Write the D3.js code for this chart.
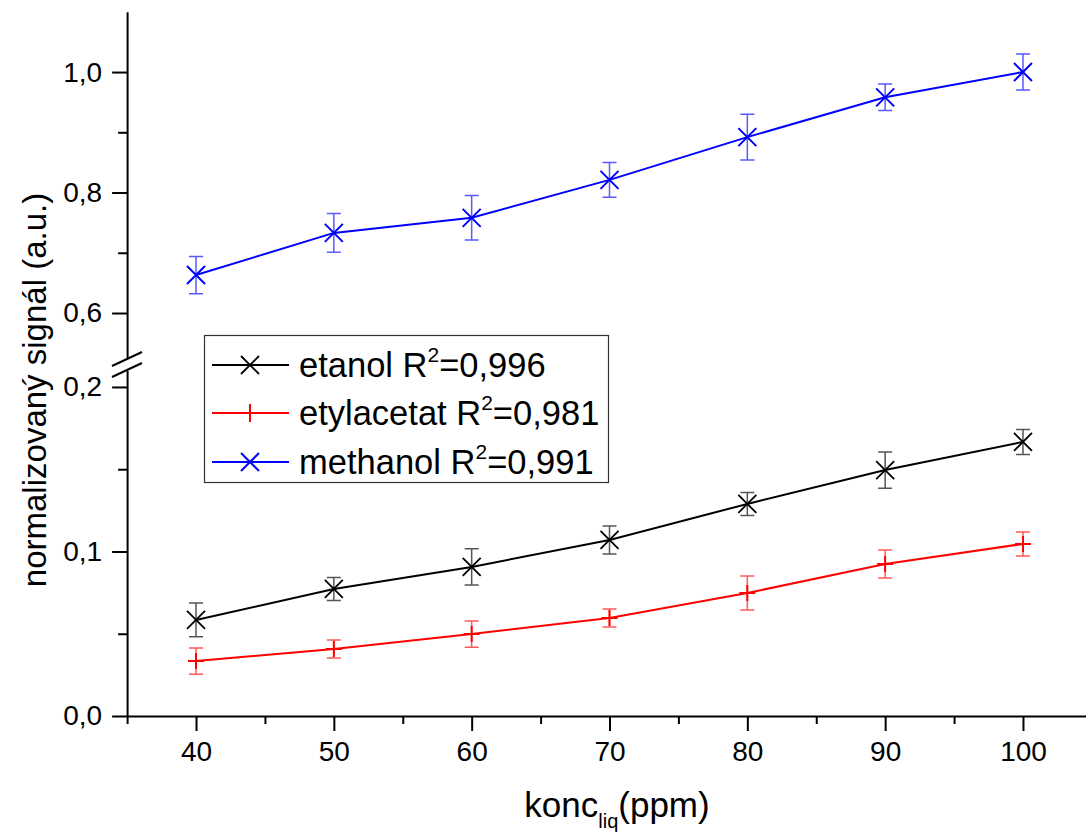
<!DOCTYPE html>
<html>
<head>
<meta charset="utf-8">
<script src="https://cdn.jsdelivr.net/npm/d3@7"></script>
<style>
  html, body { margin: 0; padding: 0; background: #fff; }
  svg { display: block; font-family: "Liberation Sans", Arial, sans-serif; }
</style>
</head>
<body>
<svg id="chart" width="1086" height="834"></svg>
<script>
// Concentrations (ppm) on the x axis
const concentrations = [40, 50, 60, 70, 80, 90, 100];

// Normalised signal for each compound with its standard deviation
const etanol        = [0.0584, 0.0772, 0.0906, 0.1070, 0.1289, 0.1495, 0.1666];
const etanolErr     = [0.0103, 0.0070, 0.0110, 0.0085, 0.0070, 0.0110, 0.0076];
const etylacetat    = [0.0334, 0.0407, 0.0498, 0.0596, 0.0748, 0.0924, 0.1046];
const etylacetatErr = [0.0080, 0.0055, 0.0080, 0.0055, 0.0103, 0.0085, 0.0073];
const methanol      = [0.663, 0.733, 0.758, 0.821, 0.892, 0.958, 1.000];
const methanolErr   = [0.031, 0.032, 0.037, 0.029, 0.038, 0.022, 0.030];

// Legend entries
const seriesNames = ["etanol", "etylacetat", "methanol"];
const seriesR2    = ["0,996", "0,981", "0,991"];

// Tick values for the axes
const xMajorTicks   = [40, 50, 60, 70, 80, 90, 100];
const xMinorTicks   = [35, 45, 55, 65, 75, 85, 95, 105];
const yLowMajor     = [0.0, 0.1, 0.2];
const yLowMinor     = [0.05, 0.15];
const yHighMajor    = [0.6, 0.8, 1.0];
const yHighMinor    = [0.7, 0.9];

const svg = d3.select("#chart");
const fmt = v => d3.format(".1f")(v).replace(".", ",");

// Scales: one x scale, two y segments joined by an axis break
const x = d3.scaleLinear().domain([35, 105]).range([127.1, 1091.9]);
const yLow  = d3.scaleLinear().domain([0, 0.21]).range([716, 370.5]);
const yHigh = d3.scaleLinear().domain([0.525, 1.1]).range([358.2, 11.8]);

const axisColor = "#000";
const tickFont = 28;

function styleAxis(g, fontSize) {
  g.selectAll("path.domain").attr("stroke", axisColor).attr("stroke-width", 2);
  g.selectAll(".tick line").attr("stroke", axisColor).attr("stroke-width", 2);
  g.selectAll(".tick text").attr("fill", "#000").style("font-size", fontSize + "px")
    .style("font-family", "'Liberation Sans', Arial, sans-serif");
}

// X axis
const xAxisG = svg.append("g").attr("transform", "translate(0,716)")
  .call(d3.axisBottom(x).tickValues(xMajorTicks).tickSize(15).tickSizeOuter(0).tickPadding(10).tickFormat(d3.format("d")));
styleAxis(xAxisG, tickFont);
const xMinorG = svg.append("g").attr("transform", "translate(0,716)")
  .call(d3.axisBottom(x).tickValues(xMinorTicks).tickSize(8).tickSizeOuter(0).tickFormat(""));
styleAxis(xMinorG, tickFont);
xMinorG.select("path.domain").remove();

// Y axis, lower segment
const yLowG = svg.append("g").attr("transform", "translate(127.1,0)")
  .call(d3.axisLeft(yLow).tickValues(yLowMajor).tickSize(15).tickSizeOuter(0).tickPadding(10).tickFormat(fmt));
styleAxis(yLowG, tickFont);
const yLowMinorG = svg.append("g").attr("transform", "translate(127.1,0)")
  .call(d3.axisLeft(yLow).tickValues(yLowMinor).tickSize(9).tickSizeOuter(0).tickFormat(""));
styleAxis(yLowMinorG, tickFont);
yLowMinorG.select("path.domain").remove();

// Y axis, upper segment
const yHighG = svg.append("g").attr("transform", "translate(127.1,0)")
  .call(d3.axisLeft(yHigh).tickValues(yHighMajor).tickSize(15).tickSizeOuter(0).tickPadding(10).tickFormat(fmt));
styleAxis(yHighG, tickFont);
const yHighMinorG = svg.append("g").attr("transform", "translate(127.1,0)")
  .call(d3.axisLeft(yHigh).tickValues(yHighMinor).tickSize(9).tickSizeOuter(0).tickFormat(""));
styleAxis(yHighMinorG, tickFont);
yHighMinorG.select("path.domain").remove();

// Axis break marks
const brk = svg.append("g");
brk.append("path")
  .attr("d", "M112,366 L142,352 L142,363 L112,377 Z")
  .attr("fill", "#fff");
[[366, 352], [377, 363]].forEach(([a, b]) => {
  brk.append("line").attr("x1", 112).attr("y1", a).attr("x2", 142).attr("y2", b)
    .attr("stroke", "#000").attr("stroke-width", 2);
});

// Axis titles
const xt = svg.append("text").attr("x", 617).attr("y", 817).attr("text-anchor", "middle")
  .style("font-size", "35px").attr("fill", "#000");
xt.append("tspan").text("konc");
xt.append("tspan").attr("dy", 11).style("font-size", "20px").text("liq");
xt.append("tspan").attr("dy", -11).text("(ppm)");

svg.append("text")
  .attr("transform", "translate(46,390) rotate(-90)")
  .attr("text-anchor", "middle")
  .style("font-size", "33px").attr("fill", "#000")
  .text("normalizovaný signál (a.u.)");

// Marker drawing helpers
function drawCross(g, cx, cy, r, color, w) {
  g.append("path")
    .attr("d", `M${cx - r},${cy - r}L${cx + r},${cy + r}M${cx - r},${cy + r}L${cx + r},${cy - r}`)
    .attr("stroke", color).attr("stroke-width", w).attr("fill", "none");
}
function drawPlus(g, cx, cy, r, color, w) {
  g.append("path")
    .attr("d", `M${cx - r},${cy}L${cx + r},${cy}M${cx},${cy - r}L${cx},${cy + r}`)
    .attr("stroke", color).attr("stroke-width", w).attr("fill", "none");
}

const series = [
  { values: etanol, errs: etanolErr, y: yLow, color: "#000000", errColor: "#555555", marker: "cross", r: 9, mw: 1.8 },
  { values: etylacetat, errs: etylacetatErr, y: yLow, color: "#ff0000", errColor: "#ff5a5a", marker: "plus", r: 8, mw: 2 },
  { values: methanol, errs: methanolErr, y: yHigh, color: "#0000ff", errColor: "#5a5aff", marker: "cross", r: 9, mw: 2 }
];

const plot = svg.append("g");
series.forEach(s => {
  const pts = concentrations.map((c, i) => ({ c, v: s.values[i], e: s.errs[i] }));
  const g = plot.append("g");

  // Error bars
  pts.forEach(p => {
    const px = x(p.c), top = s.y(p.v + p.e), bot = s.y(p.v - p.e);
    g.append("path")
      .attr("d", `M${px},${top}L${px},${bot}M${px - 7},${top}L${px + 7},${top}M${px - 7},${bot}L${px + 7},${bot}`)
      .attr("stroke", s.errColor).attr("stroke-width", 1.5).attr("fill", "none");
  });

  // Connecting line
  g.append("path").datum(pts)
    .attr("d", d3.line().x(p => x(p.c)).y(p => s.y(p.v)))
    .attr("stroke", s.color).attr("stroke-width", 2).attr("fill", "none");

  // Markers
  pts.forEach(p => {
    if (s.marker === "cross") drawCross(g, x(p.c), s.y(p.v), s.r, s.color, s.mw);
    else drawPlus(g, x(p.c), s.y(p.v), s.r, s.color, s.mw);
  });
});

// Legend
const legend = svg.append("g");
legend.append("rect").attr("x", 204.5).attr("y", 335.5).attr("width", 404).attr("height", 147)
  .attr("fill", "#fff").attr("stroke", "#333").attr("stroke-width", 1.2);
const rowY = [365, 413, 462];
series.forEach((s, i) => {
  const cy = rowY[i];
  legend.append("line").attr("x1", 212).attr("x2", 289).attr("y1", cy).attr("y2", cy)
    .attr("stroke", s.color).attr("stroke-width", 2);
  if (s.marker === "cross") drawCross(legend, 250, cy, s.r, s.color, s.mw);
  else drawPlus(legend, 250, cy, 9, s.color, s.mw);
  const t = legend.append("text").attr("x", 299).attr("y", cy + 12)
    .style("font-size", "34.5px").attr("fill", "#000");
  t.append("tspan").text(seriesNames[i] + " R");
  t.append("tspan").attr("dy", -15).style("font-size", "21px").text("2");
  t.append("tspan").attr("dy", 15).text("=" + seriesR2[i]);
});
</script>
</body>
</html>
